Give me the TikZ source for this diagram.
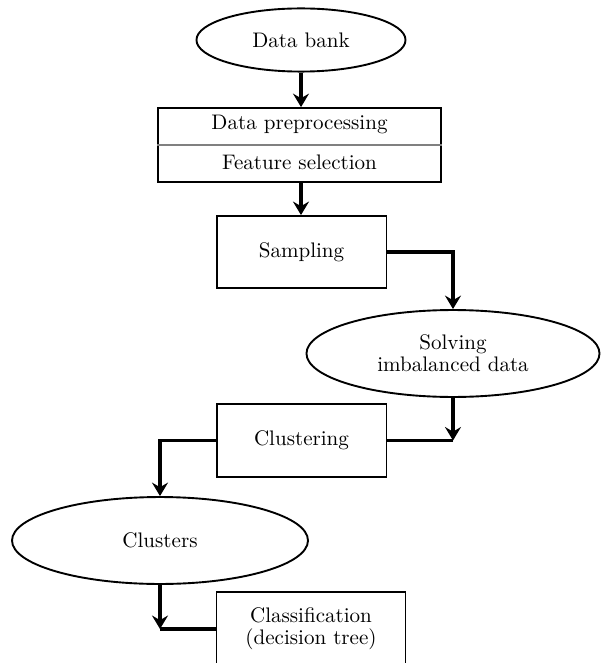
\documentclass[tikz,border=0pt]{standalone}
\usetikzlibrary{arrows.meta,shapes.geometric}
\begin{document}
\begin{tikzpicture}[x=0.475pt,y=-0.475pt,
  box/.style={draw,line width=0.9pt,rectangle,inner sep=0pt,align=center},
  oval/.style={draw,line width=0.9pt,ellipse,inner sep=0pt,align=center},
  label/.style={inner sep=0pt,align=center},
  flow/.style={line width=1.6pt,-{Stealth[length=6.4pt,width=7.6pt,inset=2.2pt]}},
  link/.style={line width=1.6pt}]
\useasboundingbox (0,0) rectangle (602,663);

% process stages
\node[oval,minimum width=99.3pt,minimum height=30pt] (bank) at (301,40) {Data bank};
\node[box,minimum width=134.4pt,minimum height=35.1pt] (prep) at (299.5,145) {};
\node[label] (pre) at (299.5,124) {Data preprocessing};
\node[label] (feat) at (299.5,162) {Feature selection};
\node[box,minimum width=80.7pt,minimum height=34.2pt] (samp) at (301.5,252) {Sampling};
\node[oval,minimum width=139.2pt,minimum height=41.3pt] (solve) at (453,353.5) {Solving\\[-1.5pt]imbalanced data};
\node[box,minimum width=80.7pt,minimum height=34.7pt] (clust) at (301.5,440.5) {Clustering};
\node[oval,minimum width=140.6pt,minimum height=41.3pt] (clusters) at (160,540.5) {Clusters};
\node[box,minimum width=89.8pt,minimum height=35.1pt] (classif) at (311,629) {Classification\\[-1.5pt](decision tree)};

% divider inside the preprocessing box
\draw[gray,line width=0.5pt] (prep.west) -- (prep.east);

% corners where an arrow meets a side line
\coordinate (c1) at (solve.south |- clust.east);
\coordinate (c2) at (clusters.south |- classif.west);

% connectors
\draw[flow] (bank.south) -- (bank.south |- prep.north);
\draw[flow] (bank.south |- prep.south) -- (bank.south |- samp.north);
\draw[flow] (samp.east) -| (solve.north);
\draw[flow] (solve.south) -- (c1);
\draw[link] (c1) -- (clust.east);
\draw[flow] (clust.west) -| (clusters.north);
\draw[flow] (clusters.south) -- (c2);
\draw[link] (c2) -- (classif.west);
\end{tikzpicture}
\end{document}
